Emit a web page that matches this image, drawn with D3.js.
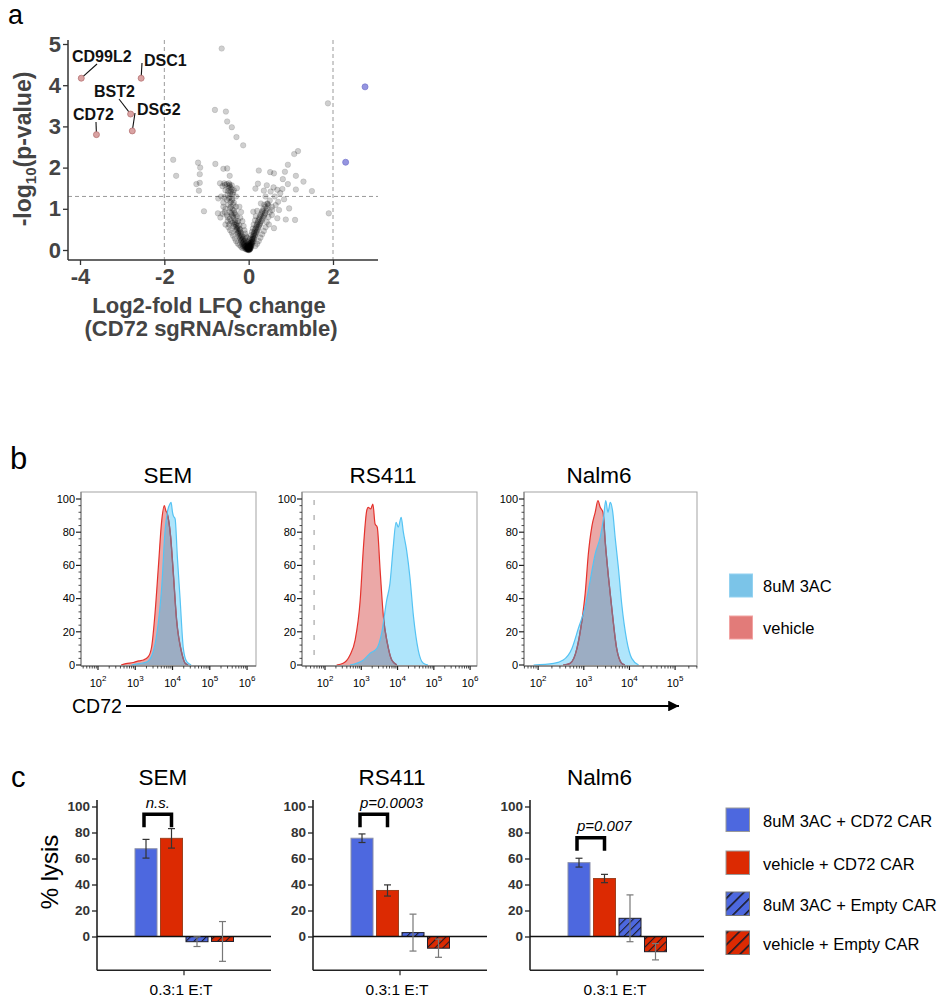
<!DOCTYPE html>
<html><head><meta charset="utf-8">
<script src="https://cdn.jsdelivr.net/npm/d3@7"></script>
<style>
body{margin:0;background:#fff}
svg{font-family:"Liberation Sans",Arial,Helvetica,sans-serif;display:block}
</style>
</head><body>
<svg id="fig" width="944" height="1000"></svg>
<script>
// ======================= DATA =======================
// Panel a: volcano plot (log2 fold change, -log10 p)
const bgProteins = [
  [-0.64,4.89],[-0.80,3.40],[-0.54,3.36],[-0.51,3.12],[-0.40,2.98],[-0.29,2.74],[-0.13,2.54],
  [1.88,3.56],[1.90,0.89],[1.08,2.33],[1.17,2.40],
  [-1.79,2.19],[-1.72,1.80],[-1.20,2.12],[-1.15,2.00],[-1.16,1.84],[-1.24,1.60],[-1.16,1.63],[-1.18,1.44],
  [-0.79,2.09],[-0.60,1.97],[-0.51,1.98],[-0.45,1.80],
  [-1.06,0.94],[-0.73,0.89],[-0.67,0.79],
  [0.24,1.93],[0.51,1.89],[0.60,1.86],[0.86,1.90],[0.93,2.07],[1.12,1.80],[0.81,1.72],[0.93,1.60],
  [1.30,1.66],[1.50,1.43],[1.12,1.47],[0.22,1.61],[0.43,1.57],[0.36,1.44],[0.16,1.49],[0.59,1.52],
  [0.68,1.46],[0.80,1.48],[0.52,1.42],[0.84,1.23],[0.70,1.17],[0.88,0.74],[1.10,0.73],[0.96,1.01],
  [0.72,0.97],[0.64,1.09],[0.68,0.77],[0.56,0.97],[0.44,1.13],[0.29,1.13],[0.11,0.93],[0.60,0.53],
  [0.55,0.85],[0.48,0.62],[0.75,1.38],[0.62,1.30],[0.40,1.30],
  [-0.60,1.15],[-0.62,0.88],[-0.55,0.62],[-0.48,0.55],[-0.65,1.30],[-0.68,1.62],[-0.62,1.55],
  [-0.72,1.25],[-0.50,0.80],[-0.35,1.45],[-0.30,1.30],[-0.28,1.50],[-0.56,1.58],[-0.47,1.62],[-0.43,1.52],
  [-0.58,1.62],[-0.52,1.60],[-0.45,1.58],[-0.40,1.57],[-0.48,1.50],[-0.55,1.45],[-0.42,1.42],[-0.50,1.35],
  [-0.38,1.35],[-0.45,1.28],[-0.52,1.22],[-0.40,1.20],[-0.35,1.15],[-0.48,1.10],[-0.42,1.05],[-0.30,1.05],
  [-0.55,1.00],[-0.38,0.98],[-0.45,0.92],[-0.33,0.90],[-0.40,0.85],[-0.28,0.82],[-0.36,0.78],[-0.45,0.75],
  [-0.32,0.72],[-0.25,0.70],[-0.38,0.66],[-0.30,0.62],[-0.22,0.60],[-0.35,0.57],[-0.27,0.54],[-0.20,0.50],
  [-0.30,0.48],[-0.24,0.45],[-0.18,0.42],[-0.26,0.40],[-0.21,0.36],[-0.15,0.34],[-0.19,0.30],[-0.13,0.27],
  [-0.17,0.24],[-0.11,0.21],[-0.14,0.18],[-0.09,0.15],[-0.12,0.12],[-0.07,0.10],[-0.09,0.07],[-0.05,0.05],
  [-0.06,0.03],[-0.03,0.02],
  [-0.46,1.55],[-0.41,1.48],[-0.49,1.43],[-0.37,1.40],[-0.44,1.36],[-0.47,1.25],[-0.39,1.24],[-0.43,1.16],
  [-0.36,1.10],[-0.44,1.02],[-0.34,0.96],[-0.41,0.90],[-0.31,0.86],[-0.37,0.82],[-0.42,0.70],[-0.33,0.68],
  [-0.28,0.66],[-0.34,0.62],[-0.26,0.58],[-0.31,0.55],[-0.23,0.52],[-0.28,0.50],[-0.21,0.46],[-0.25,0.42],
  [-0.19,0.38],[-0.23,0.34],[-0.17,0.32],[-0.20,0.28],[-0.15,0.25],[-0.18,0.21],[-0.12,0.19],[-0.15,0.15],
  [-0.10,0.12],[-0.13,0.09],[-0.08,0.08],[-0.10,0.04],[-0.07,0.02],[-0.04,0.01],
  [-0.58,1.28],[-0.60,1.05],[-0.57,0.92],[-0.52,0.85],[-0.50,0.70],[-0.46,0.62],[-0.44,0.48],[-0.40,0.42],
  [-0.37,0.35],[-0.33,0.28],[-0.30,0.22],[-0.26,0.16],[-0.22,0.12],[-0.18,0.08],[-0.15,0.05],
  [-0.22,1.05],[-0.18,0.92],[-0.20,0.78],[-0.15,0.70],[-0.12,0.58],[-0.10,0.48],[-0.08,0.40],[-0.06,0.33],
  [0.50,1.20],[0.45,1.12],[0.40,1.05],[0.35,1.00],[0.42,0.95],[0.32,0.92],[0.38,0.86],[0.28,0.84],
  [0.34,0.78],[0.25,0.76],[0.30,0.70],[0.22,0.68],[0.27,0.63],[0.19,0.60],[0.24,0.56],[0.17,0.52],
  [0.21,0.48],[0.14,0.45],[0.18,0.41],[0.12,0.38],[0.15,0.34],[0.10,0.31],[0.13,0.27],[0.08,0.24],
  [0.11,0.20],[0.06,0.17],[0.08,0.13],[0.04,0.10],[0.06,0.07],[0.02,0.05],[0.03,0.02],
  [0.47,1.08],[0.37,1.10],[0.43,1.00],[0.33,0.95],[0.39,0.90],[0.30,0.88],[0.36,0.82],[0.26,0.80],
  [0.32,0.74],[0.23,0.72],[0.28,0.66],[0.20,0.64],[0.25,0.60],[0.18,0.56],[0.22,0.52],[0.15,0.49],
  [0.19,0.44],[0.13,0.41],[0.16,0.37],[0.11,0.34],[0.12,0.29],[0.09,0.26],[0.10,0.22],[0.07,0.19],
  [0.08,0.16],[0.05,0.12],[0.06,0.09],[0.03,0.07],[0.04,0.03],[0.01,0.02],
  [0.55,1.05],[0.50,0.92],[0.47,0.80],[0.43,0.68],[0.40,0.55],[0.36,0.46],[0.32,0.38],[0.28,0.30],
  [0.24,0.22],[0.20,0.15],[0.16,0.10],
  [0.20,0.95],[0.17,0.82],[0.15,0.72],[0.12,0.62],[0.10,0.52],[0.08,0.44],[0.06,0.36],
  [0.00,0.00],[0.01,0.01],[-0.01,0.00],[0.02,0.00],[-0.02,0.01],[0.00,0.03],[0.04,0.04],[-0.04,0.04],
  [0.01,0.06],[-0.01,0.08],[0.03,0.09],[-0.03,0.11],[0.00,0.12],[0.05,0.14],[-0.05,0.16],[0.02,0.16],
  [-0.02,0.19],[0.07,0.20],[-0.07,0.22],[0.00,0.22],[0.09,0.27],[-0.08,0.28],[0.04,0.28],[-0.04,0.30],
  [0.00,0.02],[0.02,0.03],[-0.02,0.03],[0.00,0.05],[0.03,0.06],[-0.03,0.06],[0.01,0.09],[-0.01,0.10],
  [0.02,0.11],[0.00,0.14],[-0.03,0.14],[0.04,0.17]
];
const hitNames = ["CD99L2","DSC1","BST2","DSG2","CD72"];
const hitLFC   = [-3.97,-2.55,-2.80,-2.76,-3.61];
const hitLogP  = [4.17,4.17,3.30,2.89,2.80];
const upLFC    = [2.76,2.30];
const upLogP   = [3.96,2.13];
const volcXTicks = [-4,-2,0,2];
const volcYTicks = [0,1,2,3,4,5];
const pThreshold = 1.3;
const fcThresholds = [-2,2];

// Panel b: flow histograms, [log10 CD72 intensity, % of max]
const histGroups = ["8uM 3AC","vehicle"];
const semDrug = [[2.9,0],[3.1,0.8],[3.32,2],[3.45,6],[3.58,19],[3.71,47],[3.80,81],[3.86,92],[3.93,97],[3.96,98],[4.0,92],[4.02,90],[4.07,88],[4.13,65],[4.20,41],[4.29,10],[4.38,2],[4.5,0]];
const semVehicle = [[2.62,0],[2.75,0.8],[2.95,1.5],[3.1,2.5],[3.22,3],[3.35,5],[3.44,11],[3.53,31],[3.62,59],[3.71,87],[3.78,96],[3.82,93],[3.86,91],[3.95,77],[4.01,59],[4.11,27],[4.25,7],[4.34,1],[4.42,0]];
const rs411Drug = [[2.69,0],[3.06,3],[3.24,7],[3.43,10],[3.56,19],[3.70,39],[3.79,49],[3.88,71],[3.96,86],[4.02,83],[4.10,89],[4.16,80],[4.25,69],[4.34,53],[4.44,29],[4.57,9],[4.71,1],[4.84,0]];
const rs411Vehicle = [[2.32,0],[2.50,1],[2.69,6],[2.83,15],[2.97,39],[3.06,71],[3.15,93],[3.19,95],[3.26,94],[3.32,97],[3.38,85],[3.44,83],[3.52,57],[3.61,29],[3.72,13],[3.84,3],[3.98,0]];
const nalm6Drug = [[1.90,0],[2.34,1],[2.55,3],[2.74,10],[2.88,22],[3.03,35],[3.14,51],[3.25,67],[3.36,77],[3.43,88],[3.48,99],[3.53,92],[3.58,98],[3.63,93],[3.69,76],[3.76,58],[3.83,37],[3.94,15],[4.05,4],[4.20,0]];
const nalm6Vehicle = [[2.55,0],[2.70,1],[2.85,10],[2.96,27],[3.03,43],[3.10,67],[3.18,84],[3.25,92],[3.31,99],[3.36,95],[3.42,92],[3.47,74],[3.54,53],[3.61,35],[3.72,10],[3.83,1],[3.90,0]];
const rs411Gate = 1.70;
const histYTicks = [0,20,40,60,80,100];

// Panel c: % lysis at 0.3:1 E:T
const carConditions = ["8uM 3AC + CD72 CAR","vehicle + CD72 CAR","8uM 3AC + Empty CAR","vehicle + Empty CAR"];
const cellLines = ["SEM","RS411","Nalm6"];
const lysisSEM   = [67.5, 75.5, -4.0, -3.8];
const errSEM     = [7.2, 7.5, 3.7, 15.3];
const lysisRS411 = [75.6, 35.4, 3.0, -9.0];
const errRS411   = [3.3, 4.3, 14.2, 7.0];
const lysisNalm6 = [56.8, 44.6, 14.0, -11.7];
const errNalm6   = [3.4, 3.2, 18.0, 6.3];
const sigLabels  = ["n.s.","p=0.0003","p=0.007"];
const lysisTicks = [0,20,40,60,80,100];
const etLabel = "0.3:1 E:T";

// ======================= DRAW =======================
const svg = d3.select("#fig");
const defs = svg.append("defs");

// ---------- Panel a ----------
svg.append("text").attr("x",8).attr("y",24).attr("font-size",27).text("a");
const xV = d3.scaleLinear().domain([-4,2]).range([80,333]);
const yV = d3.scaleLinear().domain([0,5]).range([250,44]);
const A = {left:68,right:378,top:40,bottom:260};
const gA = svg.append("g");
gA.append("line").attr("x1",A.left).attr("x2",A.right).attr("y1",yV(pThreshold)).attr("y2",yV(pThreshold))
  .attr("stroke","#9a9a9a").attr("stroke-width",1).attr("stroke-dasharray","4,3");
gA.selectAll("line.fc").data(fcThresholds).join("line").attr("class","fc")
  .attr("x1",d=>xV(d)).attr("x2",d=>xV(d)).attr("y1",A.top).attr("y2",A.bottom)
  .attr("stroke","#9a9a9a").attr("stroke-width",1).attr("stroke-dasharray","4,3");
gA.selectAll("circle.bg").data(bgProteins).join("circle").attr("class","bg")
  .attr("cx",d=>xV(d[0])).attr("cy",d=>yV(d[1])).attr("r",2.8)
  .attr("fill","#000").attr("fill-opacity",0.19).attr("stroke","#000").attr("stroke-opacity",0.1);
// axes
const xAxA = d3.axisBottom(xV).tickValues(volcXTicks).tickFormat(d=>String(d)).tickSize(5).tickPadding(3);
const gxA = gA.append("g").attr("transform",`translate(0,${A.bottom})`).call(xAxA);
const yAxA = d3.axisLeft(yV).tickValues(volcYTicks).tickFormat(d=>String(d)).tickSize(5).tickPadding(2);
const gyA = gA.append("g").attr("transform",`translate(${A.left},0)`).call(yAxA);
[gxA,gyA].forEach(g=>{
  g.select(".domain").remove();
  g.selectAll("line").attr("stroke","#333").attr("stroke-width",1.3);
  g.selectAll("text").attr("font-family","Liberation Sans, Arial, sans-serif").attr("font-size",22).attr("font-weight","bold").attr("fill","#444");
});
gA.append("line").attr("x1",A.left).attr("x2",A.right).attr("y1",A.bottom).attr("y2",A.bottom).attr("stroke","#333").attr("stroke-width",1.5);
gA.append("line").attr("x1",A.left).attr("x2",A.left).attr("y1",A.top).attr("y2",A.bottom).attr("stroke","#333").attr("stroke-width",1.5);
// axis titles
const yT = gA.append("text").attr("transform","translate(31,149) rotate(-90)").attr("text-anchor","middle")
  .attr("font-size",23).attr("font-weight","bold").attr("fill","#444");
yT.append("tspan").text("-log");
yT.append("tspan").attr("font-size",15).attr("dy",5).text("10");
yT.append("tspan").attr("dy",-5).text("(p-value)");
gA.append("text").attr("x",209).attr("y",313).attr("text-anchor","middle").attr("font-size",22).attr("font-weight","bold").attr("fill","#444").text("Log2-fold LFQ change");
gA.append("text").attr("x",211).attr("y",336).attr("text-anchor","middle").attr("font-size",22).attr("font-weight","bold").attr("fill","#444").text("(CD72 sgRNA/scramble)");
// labelled hits (layout only: text anchor & connector end, in px)
const hitLayout = [
  {tx:72, ty:62, lx:97, ly:64},
  {tx:144,ty:66, lx:142,ly:63},
  {tx:94, ty:97, lx:119,ly:99},
  {tx:137,ty:115,lx:135,ly:113},
  {tx:73, ty:120,lx:96, ly:122}
];
hitNames.forEach((n,i)=>{
  const L = hitLayout[i];
  gA.append("line").attr("x1",xV(hitLFC[i])).attr("y1",yV(hitLogP[i])).attr("x2",L.lx).attr("y2",L.ly)
    .attr("stroke","#111").attr("stroke-width",1.1);
});
gA.selectAll("circle.hit").data(hitNames).join("circle").attr("class","hit")
  .attr("cx",(d,i)=>xV(hitLFC[i])).attr("cy",(d,i)=>yV(hitLogP[i])).attr("r",3)
  .attr("fill","#d9a3a3").attr("stroke","#b87474").attr("stroke-width",0.8);
gA.selectAll("text.hit").data(hitNames).join("text").attr("class","hit")
  .attr("x",(d,i)=>hitLayout[i].tx).attr("y",(d,i)=>hitLayout[i].ty)
  .attr("font-size",16).attr("font-weight","bold").attr("fill","#111").text(d=>d);
gA.selectAll("circle.up").data(upLFC).join("circle").attr("class","up")
  .attr("cx",d=>xV(d)).attr("cy",(d,i)=>yV(upLogP[i])).attr("r",3)
  .attr("fill","#9595e0").attr("stroke","#7b7bcf").attr("stroke-width",0.8);

// ---------- Panel b ----------
svg.append("text").attr("x",10).attr("y",469).attr("font-size",31).text("b");
const histPanels = [
  {name:cellLines[0], left:81,  right:256, dom:[1.544,6.24], titleX:168, drug:semDrug,   veh:semVehicle},
  {name:cellLines[1], left:302, right:477, dom:[1.366,6.19], titleX:383, drug:rs411Drug, veh:rs411Vehicle, gate:rs411Gate},
  {name:cellLines[2], left:524, right:697, dom:[1.69,5.48],  titleX:599, drug:nalm6Drug, veh:nalm6Vehicle}
];
const H = {top:492,bottom:666};
const yH = d3.scaleLinear().domain([0,100]).range([665,499]);
const redFill="#eba8a7", blueFill="#afe5fb", overlapFill="#9cadc3";
histPanels.forEach((p,i)=>{
  const g = svg.append("g");
  const x = d3.scaleLog().domain([10**p.dom[0],10**p.dom[1]]).range([p.left,p.right]);
  const area = d3.area().x(d=>x(10**d[0])).y0(yH(0)).y1(d=>yH(d[1])).curve(d3.curveMonotoneX);
  const line = d3.line().x(d=>x(10**d[0])).y(d=>yH(d[1])).curve(d3.curveMonotoneX);
  defs.append("clipPath").attr("id",`cr${i}`).append("path").attr("d",area(p.veh));
  defs.append("clipPath").attr("id",`cb${i}`).append("path").attr("d",area(p.drug));
  g.append("text").attr("x",p.titleX).attr("y",483).attr("text-anchor","middle").attr("font-size",22.5).text(p.name);
  if(p.gate!==undefined){
    g.append("line").attr("x1",x(10**p.gate)).attr("x2",x(10**p.gate)).attr("y1",500).attr("y2",662)
      .attr("stroke","#b8b8b8").attr("stroke-width",1.5).attr("stroke-dasharray","5,10");
  }
  g.append("path").attr("d",area(p.veh)).attr("fill",redFill);
  g.append("path").attr("d",area(p.drug)).attr("fill",blueFill);
  g.append("path").attr("d",area(p.drug)).attr("clip-path",`url(#cr${i})`).attr("fill",overlapFill);
  g.append("path").attr("d",line(p.veh)).attr("fill","none").attr("stroke","#e5322c").attr("stroke-width",1.2);
  g.append("path").attr("d",line(p.veh)).attr("clip-path",`url(#cb${i})`).attr("fill","none").attr("stroke","#8c6a80").attr("stroke-width",1.4);
  g.append("path").attr("d",line(p.drug)).attr("fill","none").attr("stroke","#55c3f3").attr("stroke-width",1.2);
  // frame
  g.append("rect").attr("x",p.left).attr("y",H.top).attr("width",p.right-p.left).attr("height",H.bottom-H.top)
    .attr("fill","none").attr("stroke","#a3a3a3").attr("stroke-width",1);
  g.append("line").attr("x1",p.left).attr("x2",p.left).attr("y1",H.top).attr("y2",H.bottom).attr("stroke","#888").attr("stroke-width",1.2);
  g.append("line").attr("x1",p.left).attr("x2",p.right).attr("y1",H.bottom).attr("y2",H.bottom).attr("stroke","#555").attr("stroke-width",1.2);
  // y ticks
  d3.range(0,101,4).forEach(v=>{
    const major = v%20===0;
    g.append("line").attr("x1",p.left-(major?5:2.5)).attr("x2",p.left).attr("y1",yH(v)).attr("y2",yH(v)).attr("stroke","#222").attr("stroke-width",major?1.2:0.8);
  });
  g.selectAll("text.yt").data(histYTicks).join("text").attr("class","yt")
    .attr("x",p.left-6).attr("y",d=>yH(d)).attr("dy","0.35em").attr("text-anchor","end").attr("font-size",11).text(d=>d);
  // x ticks (log)
  const k0 = Math.ceil(p.dom[0]), k1 = Math.floor(p.dom[1]);
  for(let k=Math.floor(p.dom[0]);k<=k1;k++){
    for(let m=1;m<10;m++){
      const v = m*10**k;
      if(Math.log10(v)<p.dom[0]||Math.log10(v)>p.dom[1]) continue;
      g.append("line").attr("x1",x(v)).attr("x2",x(v)).attr("y1",H.bottom).attr("y2",H.bottom+(m===1?4:2.5))
        .attr("stroke","#222").attr("stroke-width",m===1?1.2:0.8);
    }
  }
  for(let k=k0;k<=k1;k++){
    const t = g.append("text").attr("x",x(10**k)).attr("y",687).attr("text-anchor","middle").attr("font-size",11);
    t.append("tspan").text("10");
    t.append("tspan").attr("font-size",8).attr("dy",-6).text(k);
  }
});
// CD72 arrow
svg.append("text").attr("x",72).attr("y",713).attr("font-size",19.5).text("CD72");
defs.append("marker").attr("id","arrowHead").attr("viewBox","0 0 10 10").attr("refX",10).attr("refY",5)
  .attr("markerWidth",6).attr("markerHeight",6).attr("markerUnits","strokeWidth").attr("orient","auto")
  .append("path").attr("d","M0,0 L10,5 L0,10 z").attr("fill","#000");
svg.append("line").attr("x1",126).attr("x2",679).attr("y1",706).attr("y2",706).attr("stroke","#000").attr("stroke-width",1.8).attr("marker-end","url(#arrowHead)");
// legend b
const legB = svg.append("g");
const legBColors = [["#7bc4e8","#93d2f1"],["#e27b79","#f2a3a2"]];
histGroups.forEach((n,i)=>{
  const y0 = [574,616][i];
  legB.append("rect").attr("x",729.5).attr("y",y0).attr("width",23).attr("height",23).attr("fill",legBColors[i][0]).attr("stroke",legBColors[i][1]).attr("stroke-width",1);
  legB.append("text").attr("x",763).attr("y",y0+18).attr("font-size",16.5).text(n);
});

// ---------- Panel c ----------
svg.append("text").attr("x",11).attr("y",787).attr("font-size",29).text("c");
const solidColors = ["#4d68df","#dc2a02"];
function hatch(id,color,size,w){
  const p = defs.append("pattern").attr("id",id).attr("patternUnits","userSpaceOnUse")
    .attr("width",size).attr("height",size).attr("patternTransform","rotate(45)");
  p.append("rect").attr("width",size).attr("height",size).attr("fill",color);
  p.append("line").attr("x1",0).attr("x2",0).attr("y1",0).attr("y2",size).attr("stroke","#1b1b28").attr("stroke-width",w);
}
hatch("hb",solidColors[0],5.6,2.2); hatch("hr",solidColors[1],5.6,2.2);
hatch("hbL",solidColors[0],8.2,3.2); hatch("hrL",solidColors[1],8.2,3.2);
const barFill = ["#4d68df","#dc2a02","url(#hb)","url(#hr)"];
const barStroke = ["#8a8fa8","#a0401e","#1e1e2a","#1e1e2a"];
const yC = d3.scaleLinear().domain([0,100]).range([936.5,806.5]);
const band = d3.scaleBand().domain(carConditions).range([38,136.5]).paddingInner(0.137);
const barPanels = [
  {axisX:97,  vals:lysisSEM,   errs:errSEM,   titleX:163,   etX:181, bracket:94, sigAnchor:"middle"},
  {axisX:313, vals:lysisRS411, errs:errRS411, titleX:392,   etX:397, bracket:94, sigAnchor:"start"},
  {axisX:530, vals:lysisNalm6, errs:errNalm6, titleX:599.5, etX:615, bracket:76, sigAnchor:"start"}
];
const axW = 174, cTop = yC(105), cBottom = yC(-26);
barPanels.forEach((p,i)=>{
  const g = svg.append("g").attr("transform",`translate(${p.axisX},0)`);
  g.append("text").attr("x",p.titleX-p.axisX).attr("y",785).attr("text-anchor","middle").attr("font-size",22.5).text(cellLines[i]);
  const yAx = d3.axisLeft(yC).tickValues(lysisTicks).tickSize(5).tickPadding(2);
  const gy = g.append("g").call(yAx);
  gy.select(".domain").remove();
  gy.selectAll("line").attr("stroke","#222").attr("stroke-width",1.3);
  gy.selectAll("text").attr("font-family","Liberation Sans, Arial, sans-serif").attr("font-size",13.5).attr("font-weight","bold").attr("fill","#333");
  g.append("line").attr("x1",0).attr("x2",0).attr("y1",cTop).attr("y2",cBottom).attr("stroke","#222").attr("stroke-width",1.6);
  g.append("line").attr("x1",0).attr("x2",axW).attr("y1",cBottom).attr("y2",cBottom).attr("stroke","#222").attr("stroke-width",1.6);
  g.append("line").attr("x1",axW/2).attr("x2",axW/2).attr("y1",cBottom).attr("y2",cBottom+5).attr("stroke","#222").attr("stroke-width",1.2);
  // bars
  g.selectAll("rect.bar").data(carConditions).join("rect").attr("class","bar")
    .attr("x",d=>band(d)).attr("width",band.bandwidth())
    .attr("y",(d,j)=>yC(Math.max(0,p.vals[j]))).attr("height",(d,j)=>Math.abs(yC(p.vals[j])-yC(0)))
    .attr("fill",(d,j)=>barFill[j]).attr("stroke",(d,j)=>barStroke[j]).attr("stroke-width",1);
  // zero line
  g.append("line").attr("x1",0).attr("x2",axW).attr("y1",yC(0)).attr("y2",yC(0)).attr("stroke","#111").attr("stroke-width",1.4);
  // error bars
  carConditions.forEach((c,j)=>{
    const cx = band(c)+band.bandwidth()/2, lo = yC(p.vals[j]-p.errs[j]), hi = yC(p.vals[j]+p.errs[j]);
    const col = j<2 ? "#333" : "#777";
    g.append("line").attr("x1",cx).attr("x2",cx).attr("y1",lo).attr("y2",hi).attr("stroke",col).attr("stroke-width",1.2);
    [lo,hi].forEach(yy=>g.append("line").attr("x1",cx-3.5).attr("x2",cx+3.5).attr("y1",yy).attr("y2",yy).attr("stroke",col).attr("stroke-width",1.2));
  });
  // significance bracket
  const bx0 = band(carConditions[0])+band.bandwidth()/2-2, bx1 = band(carConditions[1])+band.bandwidth()/2;
  const by = yC(p.bracket);
  g.append("path").attr("d",`M${bx0},${by+13}V${by}H${bx1}V${by+13}`).attr("fill","none").attr("stroke","#000").attr("stroke-width",3.5);
  g.append("text").attr("x",p.sigAnchor==="middle"?(bx0+bx1)/2:bx0).attr("y",by-6.5).attr("text-anchor",p.sigAnchor)
    .attr("font-size",15).attr("font-style","italic").text(sigLabels[i]);
  g.append("text").attr("x",p.etX-p.axisX).attr("y",995).attr("text-anchor","middle").attr("font-size",15.5).text(etLabel);
});
svg.append("text").attr("transform","translate(58,872) rotate(-90)").attr("text-anchor","middle").attr("font-size",24).text("% lysis");
// legend c
const legC = svg.append("g");
const legFill = ["#4d68df","#dc2a02","url(#hbL)","url(#hrL)"];
const legRows = [808,851,892,931];
carConditions.forEach((n,i)=>{
  legC.append("rect").attr("x",726).attr("y",legRows[i]).attr("width",23.5).attr("height",23.5)
    .attr("fill",legFill[i]).attr("stroke",i<2?"#999":"#777").attr("stroke-width",1);
  legC.append("text").attr("x",763).attr("y",legRows[i]+19).attr("font-size",16.5).text(n);
});
</script>
</body></html>
